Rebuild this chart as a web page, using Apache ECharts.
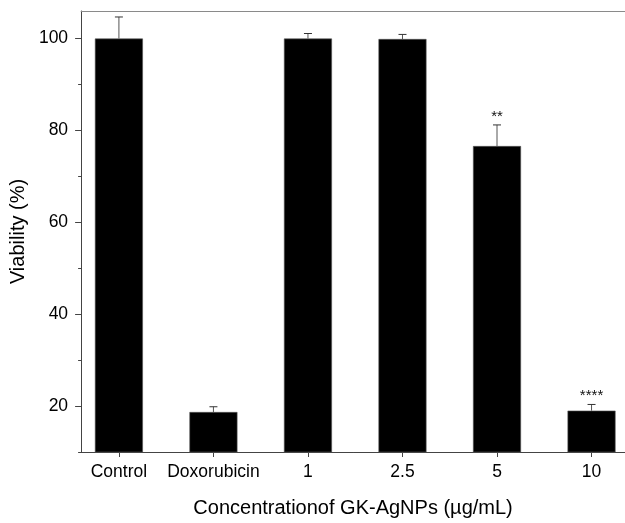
<!DOCTYPE html>
<html>
<head>
<meta charset="utf-8">
<script src="https://cdn.jsdelivr.net/npm/echarts@6/dist/echarts.min.js"></script>
<style>html,body{margin:0;padding:0;background:#fff}#c{width:625px;height:523px}</style>
</head>
<body>
<div id="c"></div>
<script>
var categories = ['Control', 'Doxorubicin', '1', '2.5', '5', '10'];
var positions = [1, 2, 3, 4, 5, 6];
var viability = [100, 18.7, 100, 99.9, 76.6, 19.0];
var errors = [4.7, 1.15, 1.1, 1.0, 4.6, 1.35];
var significance = ['', '', '', '', '**', '****'];
var yMajorTicks = [20, 40, 60, 80, 100];
var yMinorTicks = [10, 30, 50, 70, 90];

var FONT = '"Liberation Sans", Arial, sans-serif';
var chart = echarts.init(document.getElementById('c'), null, {renderer: 'canvas'});

var barData = positions.map(function (p, i) { return [p, viability[i]]; });
var errData = positions.map(function (p, i) { return [p, viability[i], errors[i], i]; });

var option = {
  animation: false,
  backgroundColor: '#fff',
  grid: {left: 77, right: 0, top: 11, bottom: 65, containLabel: false},
  xAxis: [{
    type: 'value', min: 0.6, max: 6.354, position: 'bottom',
    name: 'Concentrationof GK-AgNPs (µg/mL)', nameLocation: 'middle', nameGap: 46,
    nameTextStyle: {fontFamily: FONT, fontSize: 20, color: '#000'},
    axisLine: {show: true, lineStyle: {color: '#444', width: 1}},
    axisTick: {show: true, inside: false, length: 5, customValues: positions, lineStyle: {color: '#444'}},
    axisLabel: {show: true, margin: 11, customValues: positions, fontFamily: FONT, fontSize: 17.5, color: '#000',
      formatter: function (v) { var i = positions.indexOf(Math.round(v)); return i >= 0 ? categories[i] : ''; }},
    splitLine: {show: false}
  }, {
    type: 'value', min: 0.6, max: 6.354, position: 'top',
    axisLine: {show: true, lineStyle: {color: '#8a8a8a', width: 1}},
    axisTick: {show: false}, axisLabel: {show: false}, splitLine: {show: false}
  }],
  yAxis: [{
    type: 'value', min: 10, max: 106, position: 'left',
    name: 'Viability (%)', nameLocation: 'middle', nameGap: 42, nameRotate: 90,
    nameTextStyle: {fontFamily: FONT, fontSize: 20, color: '#000'},
    axisLine: {show: true, lineStyle: {color: '#444', width: 1}},
    axisTick: {show: true, length: 6, customValues: yMajorTicks, lineStyle: {color: '#444'}},
    axisLabel: {show: true, margin: 13, customValues: yMajorTicks, fontFamily: FONT, fontSize: 17.5, color: '#000'},
    splitLine: {show: false}
  }, {
    type: 'value', min: 10, max: 106, position: 'left', offset: 0,
    axisLine: {show: false},
    axisTick: {show: true, length: 3, customValues: yMinorTicks, lineStyle: {color: '#444'}},
    axisLabel: {show: false}, splitLine: {show: false}
  }],
  series: [{
    type: 'bar', xAxisIndex: 0, yAxisIndex: 0, data: barData, barWidth: 48,
    itemStyle: {color: '#000', borderColor: '#555', borderWidth: 0.6}, clip: true, z: 2
  }, {
    type: 'custom', xAxisIndex: 0, yAxisIndex: 0, data: errData, z: 3, clip: false,
    renderItem: function (params, api) {
      var x = api.value(0), v = api.value(1), e = api.value(2), idx = api.value(3);
      var base = api.coord([x, v]);
      var top = api.coord([x, v + e]);
      var children = [
        {type: 'line', shape: {x1: base[0], y1: base[1], x2: top[0], y2: top[1]}, style: {stroke: '#555', lineWidth: 1}},
        {type: 'line', shape: {x1: top[0] - 4, y1: top[1], x2: top[0] + 4, y2: top[1]}, style: {stroke: '#333', lineWidth: 1}}
      ];
      var s = significance[idx];
      if (s) {
        children.push({type: 'text', x: top[0], y: top[1] - 1,
          style: {text: s, fontFamily: FONT, fontSize: 15, fill: '#111', align: 'center', verticalAlign: 'bottom'}});
      }
      return {type: 'group', children: children};
    }
  }]
};
chart.setOption(option);
</script>
</body>
</html>
